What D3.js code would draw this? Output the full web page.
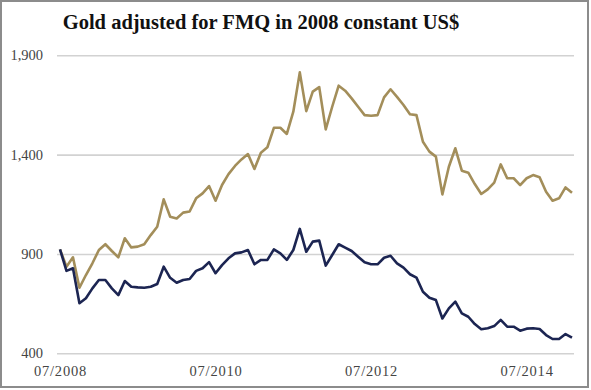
<!DOCTYPE html>
<html><head><meta charset="utf-8">
<script src="https://cdn.jsdelivr.net/npm/d3@7"></script>
<style>body{margin:0;background:#fff}svg{display:block}</style>
</head><body>
<svg id="c" width="591" height="390"></svg>
<script>
const title = "Gold adjusted for FMQ in 2008 constant US$";
// monthly, 07/2008 .. 02/2015
const months = d3.range(80).map(i => {
  const m = (6 + i) % 12 + 1, y = 2008 + Math.floor((6 + i) / 12);
  return (m < 10 ? "0" + m : "" + m) + "/" + y;
});
const goldSeries = [923,836,883,730,794,853,920,949,915,883,979,933,937,949,995,1037,1175,1087,1079,1108,
  1114,1180,1205,1242,1168,1247,1302,1343,1376,1403,1328,1410,1437,1535,1535,1504,1616,1814,1619,1717,
  1740,1527,1641,1747,1722,1683,1641,1599,1596,1599,1688,1729,1691,1650,1603,1599,1465,1415,1390,1200,
  1339,1432,1319,1309,1252,1202,1225,1259,1351,1281,1281,1247,1281,1297,1286,1213,1168,1180,1235,1208];
const navySeries = [923,815,828,652,677,727,769,769,727,693,764,735,732,730,735,749,836,780,755,769,
  774,815,828,859,803,844,878,903,908,920,848,870,870,923,903,870,920,1026,911,962,
  967,841,895,949,932,915,886,858,848,848,881,891,853,831,798,781,710,680,668,575,
  626,660,601,584,547,521,526,537,568,534,534,514,524,526,522,492,472,472,497,479];
const yTicks = [400, 900, 1400, 1900];
const xTickLabels = ["07/2008", "07/2010", "07/2012", "07/2014"];

const svg = d3.select("#c");
const font = "'Liberation Serif', 'Times New Roman', serif";

svg.append("rect").attr("x", 1).attr("y", 1).attr("width", 587).attr("height", 386)
  .attr("fill", "#fff").attr("stroke", "#8c8c8c").attr("stroke-width", 2);

svg.append("text").attr("x", 261).attr("y", 29).attr("text-anchor", "middle")
  .attr("font-family", font).attr("font-weight", "bold").attr("font-size", 20.5)
  .attr("fill", "#111").text(title);

const x = d3.scalePoint().domain(months).range([60, 572]);
const y = d3.scaleLinear().domain([400, 1900]).range([353.3, 55.3]);

// gridlines
const gy = svg.append("g").attr("transform", "translate(57,0)")
  .call(d3.axisLeft(y).tickValues(yTicks).tickSize(-517).tickFormat(d3.format(",")).tickPadding(14));
gy.select(".domain").remove();
gy.selectAll(".tick line").attr("stroke", "#d2d2d2").attr("stroke-width", 1.6);
gy.selectAll(".tick text").attr("font-family", font).attr("font-size", 14.5).attr("fill", "#444");

const gx = svg.append("g").attr("transform", "translate(0,362)")
  .call(d3.axisBottom(x).tickValues(xTickLabels).tickSize(0).tickPadding(4));
gx.select(".domain").remove();
gx.selectAll(".tick text").attr("font-family", font).attr("font-size", 14.5)
  .attr("letter-spacing", 0.8).attr("fill", "#444");

const line = d3.line().x((d, i) => x(months[i])).y(d => y(d)).curve(d3.curveLinear);
svg.append("path").datum(goldSeries).attr("d", line).attr("fill", "none")
  .attr("stroke", "#a38e5a").attr("stroke-width", 2.6).attr("stroke-linejoin", "round");
svg.append("path").datum(navySeries).attr("d", line).attr("fill", "none")
  .attr("stroke", "#1c2552").attr("stroke-width", 2.6).attr("stroke-linejoin", "round");
</script>
</body></html>
